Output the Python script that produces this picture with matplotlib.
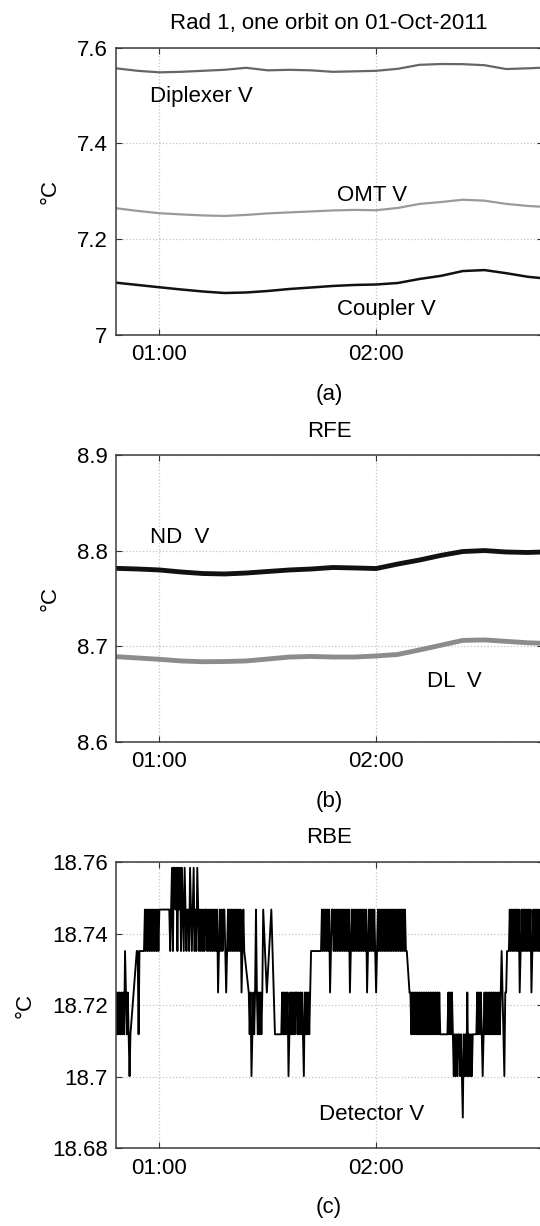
import matplotlib
matplotlib.use("Agg")
import matplotlib.pyplot as plt

# 字体: Helvetica 风格
plt.rcParams["font.family"] = ["Liberation Sans", "DejaVu Sans"]
plt.rcParams["font.size"] = 16

# 时间（分钟，从 00:00 起）
t_grid = [48, 54, 60, 66, 72, 78, 84, 90, 96, 102, 108, 114, 120, 126, 132, 138, 144, 150, 156, 162, 166]

# (a) Rad 1
diplexer = [7.5565, 7.5513, 7.5481, 7.5492, 7.5513, 7.5534, 7.5576, 7.5523, 7.5534, 7.5523, 7.5492,
            7.5502, 7.5513, 7.5555, 7.5638, 7.5655, 7.5652, 7.5630, 7.5550, 7.5565, 7.5578]
omt = [7.2642, 7.2586, 7.2538, 7.2513, 7.2492, 7.2481, 7.2502, 7.2534, 7.2555, 7.2575, 7.2596,
       7.2607, 7.2600, 7.2648, 7.2732, 7.2772, 7.2820, 7.2800, 7.2733, 7.2690, 7.2672]
coupler = [7.1087, 7.1039, 7.0991, 7.0945, 7.0903, 7.0871, 7.0882, 7.0913, 7.0955, 7.0986, 7.1018,
           7.1039, 7.1049, 7.1080, 7.1164, 7.1230, 7.1330, 7.1350, 7.1285, 7.1210, 7.1180]

# (b) RFE
nd = [8.7814, 8.7807, 8.7797, 8.7776, 8.7760, 8.7755, 8.7765, 8.7781, 8.7797, 8.7807, 8.7823,
      8.7818, 8.7812, 8.7859, 8.7901, 8.7950, 8.7990, 8.8000, 8.7985, 8.7980, 8.7985]
dl = [8.6890, 8.6876, 8.6862, 8.6845, 8.6837, 8.6839, 8.6845, 8.6865, 8.6886, 8.6892, 8.6886,
      8.6886, 8.6897, 8.6913, 8.6960, 8.7010, 8.7060, 8.7065, 8.7050, 8.7035, 8.7030]

# (c) RBE: 量化温度，每 0.25 分钟一个采样，数字为电平序号，"." 为缺测
det_t0 = 48.0
det_step = 0.25
det_levels = [18.6886, 18.7002, 18.7119, 18.7236, 18.7352, 18.7468, 18.7585]
det_rows = [
    "32323232324323212...",
    "...44244444454545454",
    "54545454555555555555",
    "45646656465646546545",
    "54654564546545454545",
    "54545454545453454545",
    "54345454545454545453",
    "454....3231232353232",
    "3235...3....5...2222",
    "22223232323123232323",
    "32323232132323234444",
    "44444444545454545345",
    "54545454545454545453",
    "45454545454545454534",
    "54545454345454545454",
    "54545454545454545454",
    "544..332323232323232",
    "32323232323232323232",
    "22222222323232121212",
    "21210212131212122222",
    "32323212323232323232",
    "32323234321334445454",
    "54545453454545454545",
    "34545454545454545454",
]

x_ticks = [60, 120]
x_ticklabels = ["01:00", "02:00"]

W, H = 540, 1226
fig = plt.figure(figsize=(W / 100, H / 100), dpi=100)


def make_axes(top_px, bottom_px):
    left, right = 116, 543
    return fig.add_axes([left / W, 1 - bottom_px / H, (right - left) / W, (bottom_px - top_px) / H])


def style_axes(ax, yticks, yticklabels, ylim, ylabel_x):
    ax.set_xticks(x_ticks)
    ax.set_xticklabels(x_ticklabels)
    ax.set_yticks(yticks)
    ax.set_yticklabels(yticklabels)
    ax.set_xlim(48, 166.2)
    ax.set_ylim(*ylim)
    ax.grid(True, linestyle=":", color="#c4c4c4", linewidth=0.9)
    ax.tick_params(direction="in", top=True, right=True, length=4, width=0.8,
                   color="#333333", labelsize=16)
    ax.tick_params(axis="x", pad=7)
    ax.tick_params(axis="y", pad=6)
    for s in ax.spines.values():
        s.set_color("#3c3c3c")
        s.set_linewidth(1.1)
    ax.text(ylabel_x, 0.5, "°C", transform=ax.transAxes, rotation=90,
            ha="center", va="center", fontsize=16)


# (a)
ax1 = make_axes(47.5, 334.7)
ax1.plot(t_grid, diplexer, color="#666666", lw=1.6)
ax1.plot(t_grid, omt, color="#9a9a9a", lw=1.6)
ax1.plot(t_grid, coupler, color="#111111", lw=1.8)
ax1.text(57.4, 7.487, "Diplexer V", ha="left", va="baseline")
ax1.text(109.3, 7.280, "OMT V", ha="left", va="baseline")
ax1.text(109.3, 7.041, "Coupler V", ha="left", va="baseline")
style_axes(ax1, [7, 7.2, 7.4, 7.6], ["7", "7.2", "7.4", "7.6"], (7, 7.6), -0.155)

# (b)
ax2 = make_axes(455, 741.7)
ax2.plot(t_grid, nd, color="#111111", lw=3.5)
ax2.plot(t_grid, dl, color="#8c8c8c", lw=3.5)
ax2.text(57.4, 8.8076, "ND  V", ha="left", va="baseline")
ax2.text(134.1, 8.6569, "DL  V", ha="left", va="baseline")
style_axes(ax2, [8.6, 8.7, 8.8, 8.9], ["8.6", "8.7", "8.8", "8.9"], (8.6, 8.9), -0.155)

# (c)
det_t, det_v = [], []
for i, c in enumerate("".join(det_rows)):
    if c != ".":
        det_t.append(det_t0 + i * det_step)
        det_v.append(det_levels[int(c)])

ax3 = make_axes(862.4, 1148.3)
ax3.plot(det_t, det_v, color="black", lw=1.35)
ax3.text(104.2, 18.6878, "Detector V", ha="left", va="baseline")
style_axes(ax3, [18.68, 18.70, 18.72, 18.74, 18.76],
           ["18.68", "18.7", "18.72", "18.74", "18.76"], (18.68, 18.76), -0.213)

# 标题与子图编号
cx = 329 / W
fig.text(cx, 1 - 29 / H, "Rad 1, one orbit on 01-Oct-2011", ha="center", va="baseline")
fig.text(cx, 1 - 436.7 / H, "RFE", ha="center", va="baseline")
fig.text(cx, 1 - 843.3 / H, "RBE", ha="center", va="baseline")
fig.text(cx, 1 - 399.7 / H, "(a)", ha="center", va="baseline")
fig.text(cx, 1 - 806.7 / H, "(b)", ha="center", va="baseline")
fig.text(cx, 1 - 1213.3 / H, "(c)", ha="center", va="baseline")

fig.savefig("out.png", dpi=100)
